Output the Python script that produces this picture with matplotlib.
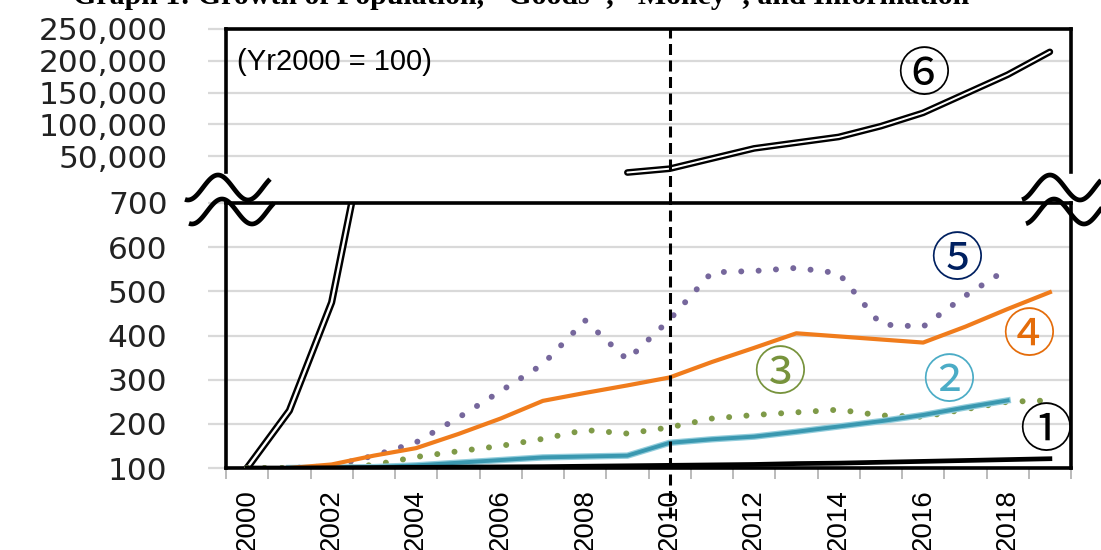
import numpy as np
import matplotlib.pyplot as plt

nan = np.nan
years = np.arange(2000, 2020)

# (Yr2000 = 100) indexes
s1_population = [100, 100, 100.5, 101, 101.5, 102, 102.5, 103, 104, 105,
                 106, 107, 108, 110, 111, 113, 115, 117, 119, 121]
s2_teal = [nan, 100, 101, 102, 106, 112, 118, 124, 126, 128,
           157, 165, 171, 182, 194, 206, 220, 237, 253, nan]
s3_green = [100, 100, 100, 107, 125, 138, 150, 166, 186, 178,
            192, 212, 220, 226, 232, 219, 216, 233, 250, 253]
s4_orange = [nan, 100, 108, 128, 145, 177, 212, 252, 270, 287,
             305, 340, 372, 405, 398, 391, 384, 420, 460, 498]
s5_purple = [100, 100, 104, 128, 158, 214, 274, 335, 434, 345,
             436, 543, 546, 553, 541, 425, 420, 490, 551, nan]
s6_info = [100, 230, 475, 950, nan, nan, nan, nan, nan, 24000,
           30000, 46000, 62000, 71000, 80000, 97000, 118000, 148000, 178000, 214000]

top_ticks = [50000, 100000, 150000, 200000, 250000]
bottom_ticks = [100, 200, 300, 400, 500, 600, 700]
year_labels = [str(y) if y % 2 == 0 else '' for y in years]
title = 'Graph 1: Growth of Population, "Goods", "Money", and Information'
marks = ['\u2460', '\u2461', '\u2462', '\u2463', '\u2464', '\u2465']

x = np.arange(len(years))
grid_c = '#d9d9d9'
tick_font = dict(family='DejaVu Sans', size=22.5, color='#222222')
mark_font = ['Noto Sans CJK JP', 'DejaVu Sans']

fig = plt.figure(figsize=(11.01, 5.5), dpi=100)
W, H = 1101, 550
left, right = 226, 1071
ax_top = fig.add_axes([left / W, 1 - 203 / H, (right - left) / W, 174 / H])
ax = fig.add_axes([left / W, 1 - 468 / H, (right - left) / W, 265 / H])

# ---- top panel
ax_top.set_xlim(-0.5, 19.5)
ax_top.set_ylim(-24000, 250000)
ax_top.set_yticks(top_ticks)
ax_top.set_yticklabels([f'{v:,}' for v in top_ticks], fontdict=tick_font)
ax_top.set_xticks([])
ax_top.grid(axis='y', color=grid_c, lw=1.6)
ax_top.set_axisbelow(True)
ax_top.spines['bottom'].set_visible(False)
for sp in ['left', 'right', 'top']:
    ax_top.spines[sp].set_linewidth(2.6)
ax_top.spines['left'].set_bounds(24800, 250000)
ax_top.spines['right'].set_bounds(24800, 250000)
ax_top.tick_params(axis='y', length=13, width=1.6, color=grid_c, pad=29)

s6 = np.array(s6_info)
keep = years >= 2009
ax_top.plot(x[keep], s6[keep], color='black', lw=4.8, solid_capstyle='round', solid_joinstyle='round', zorder=3)
ax_top.plot(x[keep], s6[keep], color='white', lw=1.4, solid_capstyle='round', solid_joinstyle='round', zorder=3)
ax_top.axvline(10, color='black', lw=2.2, ls=(0, (3.6, 1.8)), zorder=6)

ax_top.text(0.013, 0.81, '(Yr2000 = 100)', transform=ax_top.transAxes, va='center', ha='left',
            family='Liberation Sans', fontsize=21)
ax_top.text(16.0, 176000, marks[5], ha='center', va='center', fontsize=38,
            family=mark_font, color='black')

# ---- bottom panel
ax.set_xlim(-0.5, 19.5)
ax.set_ylim(100, 700)
ax.set_yticks(bottom_ticks)
ax.set_yticklabels([str(v) for v in bottom_ticks], fontdict=tick_font)
ax.grid(axis='y', color=grid_c, lw=1.6)
ax.set_axisbelow(True)
for sp in ax.spines.values():
    sp.set_linewidth(2.6)
ax.tick_params(axis='y', length=13, width=1.6, color=grid_c, pad=29)
ax.set_xticks(x)
ax.set_xticklabels(year_labels, rotation=90, family='Liberation Sans', fontsize=20)
ax.set_xticks(np.arange(-0.5, 20, 1), minor=True)
ax.tick_params(axis='x', which='major', length=0, pad=15)
ax.tick_params(axis='x', which='minor', length=8, width=1.4, color='#bbbbbb')

ax.plot(x, s6, color='black', lw=5.2, solid_joinstyle='round', zorder=2)
ax.plot(x, s6, color='white', lw=1.7, solid_joinstyle='round', zorder=2)
ax.plot(x, s5_purple, color='#76679c', lw=4.3, ls=(0, (0.01, 2.9)), dash_capstyle='round', zorder=3)
ax.plot(x, s3_green, color='#7f9a48', lw=4.3, ls=(0, (0.01, 2.9)), dash_capstyle='round', zorder=3)
ax.plot(x, s2_teal, color='#92cddc', lw=4.6, zorder=4)
ax.plot(x, s2_teal, color='#3a98b0', lw=2.8, zorder=4)
ax.plot(x, s4_orange, color='#f07c1c', lw=3, zorder=4)
ax.plot(x, s1_population, color='black', lw=3.4, zorder=5)
ax.axvline(10, ymin=-0.19, ymax=1, color='black', lw=2.2, ls=(0, (3.6, 1.8)), zorder=6, clip_on=False)

label_pos = [(18.9, 182, 'black'), (16.6, 293, '#4bacc6'), (12.6, 311, '#77933c'),
             (18.5, 398, '#e46c0a'), (16.8, 570, '#002060')]
for m, (lx, ly, c) in zip(marks, label_pos):
    ax.text(lx, ly, m, ha='center', va='center', fontsize=38,
            family=mark_font, color=c, zorder=7)

# ---- overlay: axis-break waves and the clipped title
ov = fig.add_axes([0, 0, 1, 1], zorder=10)
ov.set_xlim(0, W)
ov.set_ylim(H, 0)
ov.axis('off')
ov.patch.set_alpha(0)
for x0, xs in [(203, np.linspace(185, 270, 80)), (1035, np.linspace(1022, 1101, 80))]:
    ov.plot(xs, 187.5 - 12.5 * np.sin(2 * np.pi * (xs - x0) / 60), color='black', lw=3.4, solid_capstyle='butt')
    xs2 = xs + 4
    ov.plot(xs2, 211.5 - 12.5 * np.sin(2 * np.pi * (xs2 - 4 - x0) / 60), color='black', lw=3.4, solid_capstyle='butt')
ov.text(521, 4, title, ha='center', va='baseline', family='Liberation Serif', fontweight='bold', fontsize=21.5)

fig.savefig('out.png', dpi=100)
